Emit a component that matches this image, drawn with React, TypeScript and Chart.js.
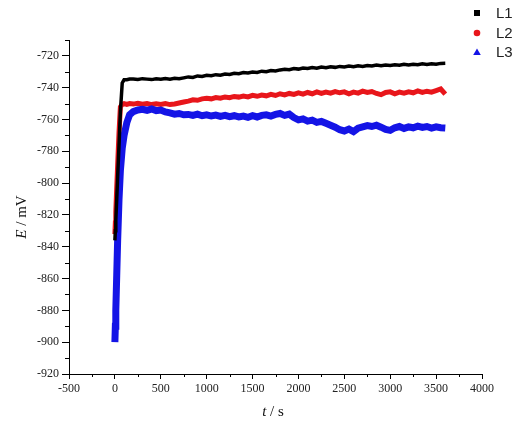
import React, { useEffect, useRef } from 'react';
import { Chart, registerables } from 'chart.js';

Chart.register(...registerables);

// Time (s)
const TIMES: number[] = [
  0, 5, 10, 20, 30, 45, 60, 80, 100, 130, 160,
  200, 250, 300, 350, 400, 450, 500, 550, 600, 650, 700, 750, 800, 850, 900, 950,
  1000, 1050, 1100, 1150, 1200, 1250, 1300, 1350, 1400, 1450, 1500, 1550, 1600, 1650,
  1700, 1750, 1800, 1850, 1900, 1950, 2000, 2050, 2100, 2150, 2200, 2250, 2300, 2350,
  2400, 2450, 2500, 2550, 2600, 2650, 2700, 2750, 2800, 2850, 2900, 2950, 3000, 3050,
  3100, 3150, 3200, 3250, 3300, 3350, 3400, 3450, 3500, 3550, 3600,
];

// E (mV)
const L1: number[] = [
  -836, -830, -823, -810, -796, -776, -755, -737, -735, -735, -734.5,
  -734.5, -734.8, -734.3, -734.6, -734.9, -734.4, -734.7, -734.2, -734.6, -734.0, -734.4, -733.8, -733.2, -733.5, -732.6, -732.9,
  -732.2, -732.5, -731.8, -732.1, -731.4, -731.7, -730.9, -731.2, -730.5, -730.8, -730.2, -730.4, -729.6, -729.9,
  -729.2, -729.5, -728.8, -728.4, -728.7, -728.0, -728.3, -727.6, -727.9, -727.3, -727.7, -727.0, -727.4, -726.8,
  -727.2, -726.6, -726.9, -726.4, -726.8, -726.2, -726.6, -726.0, -726.4, -725.8, -726.2, -725.7, -726.0, -725.5,
  -725.9, -725.3, -725.7, -725.2, -725.6, -725.0, -725.4, -724.9, -725.3, -724.7, -724.6,
];

const L2: number[] = [
  -832, -825, -818, -803, -789, -768, -752, -750.5, -750, -750.5, -750,
  -750.3, -749.8, -750.4, -750.0, -750.6, -750.1, -750.5, -750.0, -750.6, -750.2, -749.6, -749.0, -748.4, -747.6, -747.9, -747.0,
  -746.6, -747.0, -746.2, -746.6, -745.8, -746.3, -745.5, -745.9, -745.2, -745.8, -744.8, -745.4, -744.6, -745.1,
  -744.2, -744.9, -743.8, -744.5, -743.6, -744.2, -743.2, -744.0, -743.0, -743.8, -742.6, -743.6, -742.8, -743.4,
  -742.4, -743.2, -742.6, -743.8, -742.8, -743.4, -742.2, -743.0, -742.4, -743.6, -744.4, -743.0, -742.6, -743.8,
  -742.8, -743.4, -742.6, -743.2, -742.0, -743.0, -742.2, -742.8, -741.8, -740.8, -744.0,
];

const L3: number[] = [
  -900, -890, -880, -858, -836, -810, -792, -778, -770, -762, -757,
  -755.0, -754.0, -753.6, -754.2, -753.4, -754.4, -754.0, -755.2, -755.8, -756.6, -756.2, -757.0, -756.8, -757.4, -756.6, -757.6,
  -757.0, -757.8, -757.2, -758.0, -757.4, -758.2, -757.6, -758.4, -757.8, -758.6, -757.6, -758.4, -757.4, -757.0,
  -757.8, -756.8, -756.2, -757.4, -756.6, -758.8, -760.2, -759.6, -761.0, -760.4, -761.8, -761.2, -762.4, -763.6,
  -764.8, -766.4, -767.2, -766.0, -767.6, -765.4, -764.6, -763.8, -764.4, -763.6, -764.8, -766.2, -766.8, -765.2,
  -764.4, -765.6, -764.6, -765.2, -764.2, -765.0, -764.4, -765.4, -764.6, -765.2, -765.4,
];

const SERIES_NAMES = ['L1', 'L2', 'L3'];
const SERIES_COLORS = ['#000000', '#e8161b', '#1414e6'];
const SERIES_WIDTHS = [3.5, 5, 7];
const SERIES_ORDER = [0, 2, 1];
const LEGEND_SHAPES = ['rect', 'circle', 'triangle'];

const Y_TICKS: number[] = [-920, -900, -880, -860, -840, -820, -800, -780, -760, -740, -720];
const Y_MINOR: number[] = [-910, -890, -870, -850, -830, -810, -790, -770, -750, -730, -710];
const X_MINOR: number[] = [-250, 250, 750, 1250, 1750, 2250, 2750, 3250, 3750];

const SERIF = '"Liberation Serif", "Times New Roman", serif';
const SANS = '"Liberation Sans", Arial, sans-serif';

const extras = {
  id: 'extras',
  afterDraw(chart: any) {
    const ctx = chart.ctx as CanvasRenderingContext2D;
    const xs = chart.scales.x;
    const ys = chart.scales.y;
    const area = chart.chartArea;
    ctx.save();
    ctx.strokeStyle = '#000';
    ctx.lineWidth = 1;
    for (const v of Y_MINOR) {
      const p = Math.round(ys.getPixelForValue(v)) + 0.5;
      ctx.beginPath();
      ctx.moveTo(area.left - 4, p);
      ctx.lineTo(area.left, p);
      ctx.stroke();
    }
    for (const v of X_MINOR) {
      const p = Math.round(xs.getPixelForValue(v)) + 0.5;
      ctx.beginPath();
      ctx.moveTo(p, area.bottom);
      ctx.lineTo(p, area.bottom + 3);
      ctx.stroke();
    }

    const lx = 477;
    const ly = [13, 33, 52];
    SERIES_NAMES.forEach((name, i) => {
      const y = ly[i];
      ctx.fillStyle = SERIES_COLORS[i];
      const shape = LEGEND_SHAPES[i];
      ctx.beginPath();
      if (shape === 'rect') {
        ctx.rect(lx - 3, y - 3, 6, 6);
      } else if (shape === 'circle') {
        ctx.arc(lx, y, 3.3, 0, Math.PI * 2);
      } else {
        ctx.moveTo(lx, y - 3.5);
        ctx.lineTo(lx + 3.8, y + 3);
        ctx.lineTo(lx - 3.8, y + 3);
        ctx.closePath();
      }
      ctx.fill();
      ctx.fillStyle = '#222';
      ctx.font = `15px ${SANS}`;
      ctx.textAlign = 'left';
      ctx.textBaseline = 'middle';
      ctx.fillText(name, 496, y + 1);
    });

    const drawMixed = (parts: { t: string; italic: boolean }[], cx: number, cy: number, rot: number) => {
      ctx.save();
      ctx.translate(cx, cy);
      ctx.rotate(rot);
      ctx.fillStyle = '#111';
      ctx.textBaseline = 'middle';
      ctx.textAlign = 'left';
      let total = 0;
      const widths = parts.map((p) => {
        ctx.font = `${p.italic ? 'italic ' : ''}15px ${SERIF}`;
        const w = ctx.measureText(p.t).width;
        total += w;
        return w;
      });
      let x = -total / 2;
      parts.forEach((p, i) => {
        ctx.font = `${p.italic ? 'italic ' : ''}15px ${SERIF}`;
        ctx.fillText(p.t, x, 0);
        x += widths[i];
      });
      ctx.restore();
    };
    drawMixed([{ t: 'E', italic: true }, { t: ' / mV', italic: false }], 22, 217, -Math.PI / 2);
    drawMixed([{ t: 't', italic: true }, { t: ' / s', italic: false }], 273, 412, 0);
    ctx.restore();
  },
};

export default function App() {
  const ref = useRef<HTMLCanvasElement | null>(null);

  useEffect(() => {
    if (!ref.current) return;
    const series = [L1, L2, L3];
    const datasets = series.map((vals, i) => ({
      label: SERIES_NAMES[i],
      data: TIMES.map((t, k) => ({ x: t, y: vals[k] })),
      borderColor: SERIES_COLORS[i],
      backgroundColor: SERIES_COLORS[i],
      borderWidth: SERIES_WIDTHS[i],
      pointRadius: 0,
      tension: 0,
      fill: false,
      order: SERIES_ORDER[i],
    }));
    const chart = new Chart(ref.current, {
      type: 'line',
      data: { datasets },
      options: {
        animation: false,
        responsive: false,
        devicePixelRatio: 1,
        layout: { padding: { left: 0, top: 40, right: 36, bottom: 0 } },
        plugins: { legend: { display: false }, tooltip: { enabled: false }, title: { display: false } },
        scales: {
          x: {
            type: 'linear',
            min: -500,
            max: 4000,
            ticks: {
              stepSize: 500,
              color: '#222',
              font: { family: SERIF, size: 12 },
              padding: 3,
              maxRotation: 0,
              callback: (v: any) => String(v),
            },
            grid: { drawOnChartArea: false, drawTicks: true, tickLength: 5, color: '#000' },
            border: { display: true, color: '#000', width: 1 },
            afterFit: (s: any) => { s.height = 52; },
          },
          y: {
            type: 'linear',
            min: -920,
            max: -710,
            afterBuildTicks: (s: any) => { s.ticks = Y_TICKS.map((v) => ({ value: v })); },
            ticks: { color: '#222', font: { family: SERIF, size: 12 }, padding: 3, callback: (v: any) => String(v) },
            grid: { drawOnChartArea: false, drawTicks: true, tickLength: 7, color: '#000' },
            border: { display: true, color: '#000', width: 1 },
            afterFit: (s: any) => { s.width = 69; },
          },
        },
      },
      plugins: [extras],
    } as any);
    return () => chart.destroy();
  }, []);

  return (
    <div style={{ position: 'absolute', left: 0, top: 0, width: 518, height: 426, background: '#fff' }}>
      <canvas ref={ref} width={518} height={426} style={{ display: 'block', width: 518, height: 426 }} />
    </div>
  );
}
